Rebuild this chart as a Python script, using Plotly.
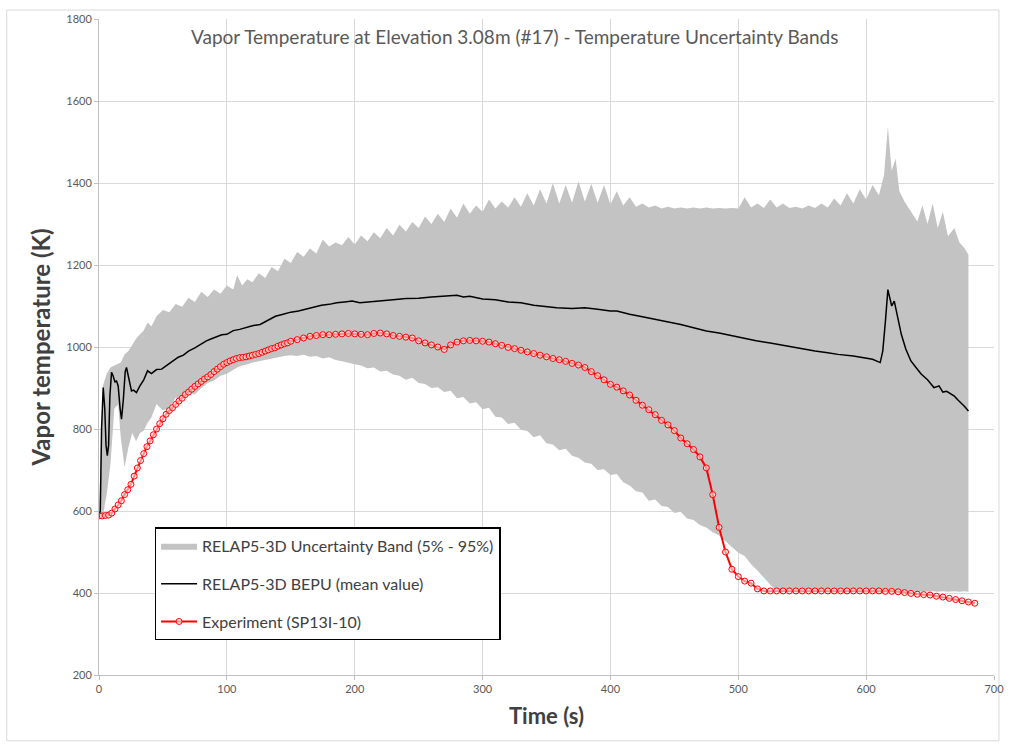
import plotly.graph_objects as go

# --- RELAP5-3D uncertainty band (5% / 95% envelopes) ---
band_t = [0, 3, 6, 9, 12, 15, 17, 20, 23, 26, 29, 32, 35, 38, 41, 45, 50, 55, 60, 65,
          70, 75, 80, 85, 90, 95, 100, 105, 108, 112, 116, 120, 125, 130, 135, 140, 145,
          150, 155, 160, 165, 170, 175, 180, 185, 190, 195, 200, 205, 210, 215, 220, 225,
          230, 235, 240, 245, 250, 255, 260, 265, 270, 275, 280, 285, 290, 295, 300, 305,
          310, 315, 320, 325, 330, 335, 340, 345, 350, 355, 360, 365, 370, 375, 380, 385,
          390, 395, 400, 405, 410, 415, 420, 425, 430, 435, 440, 445, 450, 455, 460, 465,
          470, 475, 480, 485, 490, 495, 500, 505, 510, 515, 520, 525, 530, 535, 540, 545,
          550, 555, 560, 565, 570, 575, 580, 585, 590, 595, 600, 605, 610, 614, 617, 620,
          623, 626, 630, 635, 640, 644, 648, 652, 656, 660, 664, 669, 673, 677, 680]
band_upper = [590, 905, 935, 950, 955, 960, 962, 982, 990, 1005, 1020, 1031, 1040, 1060,
              1050, 1075, 1090, 1085, 1105, 1098, 1120, 1110, 1135, 1122, 1140, 1130, 1150,
              1140, 1175, 1150, 1165, 1158, 1180, 1168, 1195, 1185, 1215, 1205, 1232, 1220,
              1240, 1228, 1262, 1245, 1255, 1248, 1268, 1250, 1272, 1258, 1280, 1265, 1290,
              1272, 1298, 1282, 1305, 1290, 1318, 1300, 1325, 1305, 1338, 1315, 1350, 1325,
              1345, 1330, 1360, 1338, 1355, 1340, 1365, 1342, 1375, 1345, 1385, 1350, 1400,
              1350, 1395, 1352, 1404, 1355, 1398, 1352, 1395, 1348, 1380, 1345, 1365, 1342,
              1350, 1340, 1345, 1338, 1342, 1338, 1340, 1338, 1340, 1338, 1340, 1338, 1339,
              1338, 1339, 1338, 1365, 1340, 1350, 1339, 1360, 1340, 1350, 1339, 1342, 1338,
              1345, 1339, 1350, 1340, 1362, 1345, 1375, 1350, 1385, 1360, 1395, 1370, 1420,
              1537, 1430, 1460, 1380, 1355, 1330, 1306, 1345, 1300, 1350, 1290, 1330, 1270,
              1290, 1255, 1241, 1225]
band_lower = [588, 640, 715, 850, 860, 780, 707, 755, 790, 770, 790, 796, 815, 828, 861,
              845, 852, 877, 870, 888, 885, 900, 912, 918, 930, 935, 945, 950, 955, 958, 962,
              965, 968, 972, 975, 978, 980, 978, 981, 976, 978, 972, 975, 968, 965, 962, 958,
              955, 948, 950, 940, 942, 933, 930, 920, 925, 912, 910, 900, 902, 890, 893, 875,
              878, 862, 865, 848, 852, 830, 828, 812, 815, 798, 795, 780, 785, 765, 762, 748,
              752, 735, 730, 718, 715, 700, 702, 688, 690, 670, 662, 648, 645, 625, 628, 612,
              610, 595, 598, 582, 578, 566, 560, 548, 540, 525, 512, 498, 490, 470, 455, 438,
              420, 405, 404, 403, 404, 403, 404, 403, 404, 403, 404, 403, 404, 403, 404, 403,
              404, 403, 404, 403, 404, 403, 404, 403, 404, 403, 404, 403, 404, 403, 404, 403,
              404, 403, 404, 403]

# --- RELAP5-3D BEPU mean value ---
mean_t = [0, 1, 2, 3.3, 4.5, 5.5, 6.5, 7.5, 8.5, 9.8, 11, 12.5, 13.7, 15, 16.5, 17.6, 19,
          20.5, 21.5, 23, 25.4, 27, 29.3, 32, 35, 38, 41, 45, 49, 53, 57.7, 62, 66, 70, 75,
          80, 84, 88, 92, 96, 100, 105, 110, 115, 120, 126, 132, 138, 144, 150, 156, 162,
          168, 174, 180, 186, 192, 198, 204, 210, 220, 230, 240, 250, 260, 270, 280, 285,
          290, 300, 310, 320, 330, 340, 350, 358, 370, 380, 390, 400, 405, 415, 425, 435,
          444, 455, 465, 475, 485, 495, 505, 514, 525, 535, 545, 552, 560, 570, 578, 590,
          600, 605, 611, 613, 615, 617, 618.5, 620, 622, 624, 627.5, 631, 635, 639, 643,
          648, 653, 657, 660, 663, 666, 669, 672, 675, 677, 680]
mean_temp = [590, 600, 800, 901, 850, 760, 735, 760, 880, 938, 930, 915, 917, 905, 850,
             824, 870, 940, 950, 925, 893, 895, 889, 905, 920, 942, 935, 945, 946, 955, 966,
             975, 980, 990, 998, 1008, 1015, 1020, 1026, 1030, 1031, 1040, 1043, 1048, 1052,
             1055, 1065, 1075, 1080, 1085, 1088, 1093, 1098, 1102, 1104, 1108, 1110, 1112,
             1108, 1110, 1113, 1115, 1118, 1119, 1122, 1124, 1126, 1122, 1124, 1117, 1115,
             1110, 1108, 1102, 1098, 1096, 1094, 1096, 1092, 1088, 1088, 1080, 1074, 1068,
             1063, 1055, 1047, 1039, 1034, 1027, 1020, 1015, 1010, 1004, 998, 994, 990, 986,
             982, 978, 972, 970, 962, 990, 1060, 1140, 1120, 1100, 1112, 1080, 1031, 995, 966,
             950, 934, 920, 901, 905, 890, 892, 885, 880, 870, 862, 855, 844]

# --- Experiment SP13I-10 ---
exp_t = [0, 2.5, 5, 7.5, 10, 12.5, 15, 17.5, 20, 22.5, 25, 27.5, 30, 32.5, 35, 37.5, 40,
         42.5, 45, 47.5, 50, 52.5, 55, 57.5, 60, 62.5, 65, 67.5, 70, 72.5, 75, 77.5, 80,
         82.5, 85, 87.5, 90, 92.5, 95, 97.5, 100, 102.5, 105, 107.5, 110, 112.5, 115, 117.5,
         120, 122.5, 125, 127.5, 130, 132.5, 135, 137.5, 140, 142.5, 145, 147.5, 150, 155,
         160, 165, 170, 175, 180, 185, 190, 195, 200, 205, 210, 215, 220, 225, 230, 235, 240,
         245, 250, 255, 260, 265, 270, 275, 280, 285, 290, 295, 300, 305, 310, 315, 320, 325,
         330, 335, 340, 345, 350, 355, 360, 365, 370, 375, 380, 385, 390, 395, 400, 405, 410,
         415, 420, 425, 430, 435, 440, 445, 450, 455, 460, 465, 470, 475, 480, 485, 490, 495,
         500, 505, 510, 515, 520, 525, 530, 535, 540, 545, 550, 555, 560, 565, 570, 575, 580,
         585, 590, 595, 600, 605, 610, 615, 620, 625, 630, 635, 640, 645, 650, 655, 660, 665,
         670, 675, 680, 685]
exp_temp = [588, 588, 589, 590, 595, 605, 615, 625, 640, 652, 665, 685, 705, 723, 740, 757,
            771, 786, 800, 813, 825, 836, 845, 852, 860, 868, 875, 884, 890, 897, 904, 910,
            916, 922, 927, 933, 940, 946, 952, 958, 962, 966, 969, 972, 974, 975, 976, 978,
            980, 982, 984, 987, 990, 993, 996, 998, 1002, 1005, 1008, 1010, 1014, 1018, 1022,
            1026, 1028, 1030, 1030, 1031, 1032, 1033, 1032, 1031, 1030, 1033, 1034, 1032,
            1028, 1026, 1024, 1022, 1015, 1010, 1005, 1000, 994, 1005, 1012, 1015, 1016,
            1015, 1014, 1012, 1008, 1004, 999, 996, 992, 988, 984, 980, 976, 972, 969, 965,
            960, 956, 950, 940, 930, 920, 909, 902, 893, 883, 870, 858, 847, 835, 821, 810,
            796, 778, 764, 750, 732, 705, 640, 560, 500, 458, 440, 429, 424, 410, 405, 405,
            405, 405, 405, 405, 405, 405, 405, 405, 405, 405, 405, 405, 405, 405, 405, 405,
            405, 404, 404, 403, 401, 399, 397, 396, 395, 392, 390, 387, 384, 381, 378, 375]

FONT = "Lato"
GRID = "#d9d9d9"

fig = go.Figure()

# Band as a closed polygon: upper envelope forward, lower envelope back
fig.add_trace(go.Scatter(
    x=band_t + band_t[::-1],
    y=band_upper + band_lower[::-1],
    fill="toself",
    fillcolor="#c3c3c3",
    line=dict(width=0, color="#c3c3c3"),
    mode="lines",
    name="RELAP5-3D Uncertainty Band (5% - 95%)",
    legendgroup="a",
    hoverinfo="skip",
))

fig.add_trace(go.Scatter(
    x=mean_t, y=mean_temp,
    mode="lines",
    line=dict(color="black", width=1.5),
    name="RELAP5-3D BEPU (mean value)",
    legendgroup="b",
))

fig.add_trace(go.Scatter(
    x=exp_t, y=exp_temp,
    mode="lines+markers",
    line=dict(color="#ff0000", width=2),
    marker=dict(symbol="circle", size=6, color="rgba(255,235,235,0.6)",
                line=dict(color="#ff0000", width=1)),
    name="Experiment (SP13I-10)",
    legendgroup="c",
))

fig.update_layout(
    width=1016, height=745,
    margin=dict(l=99, r=15, t=17, b=70),
    paper_bgcolor="white",
    plot_bgcolor="white",
    font=dict(family=FONT, color="#595959"),
    showlegend=True,
    legend=dict(
        x=(155 - 99) / 902, y=(675 - 527) / 658,
        xanchor="left", yanchor="top",
        bgcolor="white",
        bordercolor="black", borderwidth=1.5,
        font=dict(family=FONT, size=16, color="#404040"),
        tracegroupgap=14,
        itemwidth=36,
    ),
    xaxis=dict(
        range=[0, 700], dtick=100, tick0=0,
        showgrid=True, gridcolor=GRID, gridwidth=1,
        showline=True, linecolor="#bfbfbf", linewidth=1,
        ticks="outside", ticklen=4, tickcolor="#bfbfbf",
        tickfont=dict(family=FONT, size=11, color="#595959"),
        zeroline=False,
        title=dict(text="<b>Time (s)</b>", font=dict(family=FONT, size=22, color="#404040"),
                   standoff=14),
    ),
    yaxis=dict(
        range=[200, 1800], dtick=200, tick0=200,
        showgrid=True, gridcolor=GRID, gridwidth=1,
        showline=True, linecolor="#bfbfbf", linewidth=1,
        ticks="outside", ticklen=4, tickcolor="#bfbfbf",
        tickfont=dict(family=FONT, size=11, color="#595959"),
        zeroline=False,
        title=dict(text="<b>Vapor temperature (K)</b>",
                   font=dict(family=FONT, size=24, color="#404040"), standoff=8),
    ),
)

fig.add_annotation(
    text="Vapor Temperature at Elevation 3.08m (#17) - Temperature Uncertainty Bands",
    xref="paper", yref="paper",
    x=(518 - 99) / 902, y=(675 - 35) / 658,
    xanchor="center", yanchor="middle",
    showarrow=False,
    font=dict(family=FONT, size=19, color="#595959"),
)

# Light chart-area frame
fig.add_shape(type="rect", xref="paper", yref="paper",
              x0=-93 / 902, x1=(1006 - 99) / 902,
              y0=-(741 - 675) / 658, y1=(675 - 8) / 658,
              line=dict(color="#d9d9d9", width=1), fillcolor="rgba(0,0,0,0)", layer="below")

fig.write_html("out.html")
